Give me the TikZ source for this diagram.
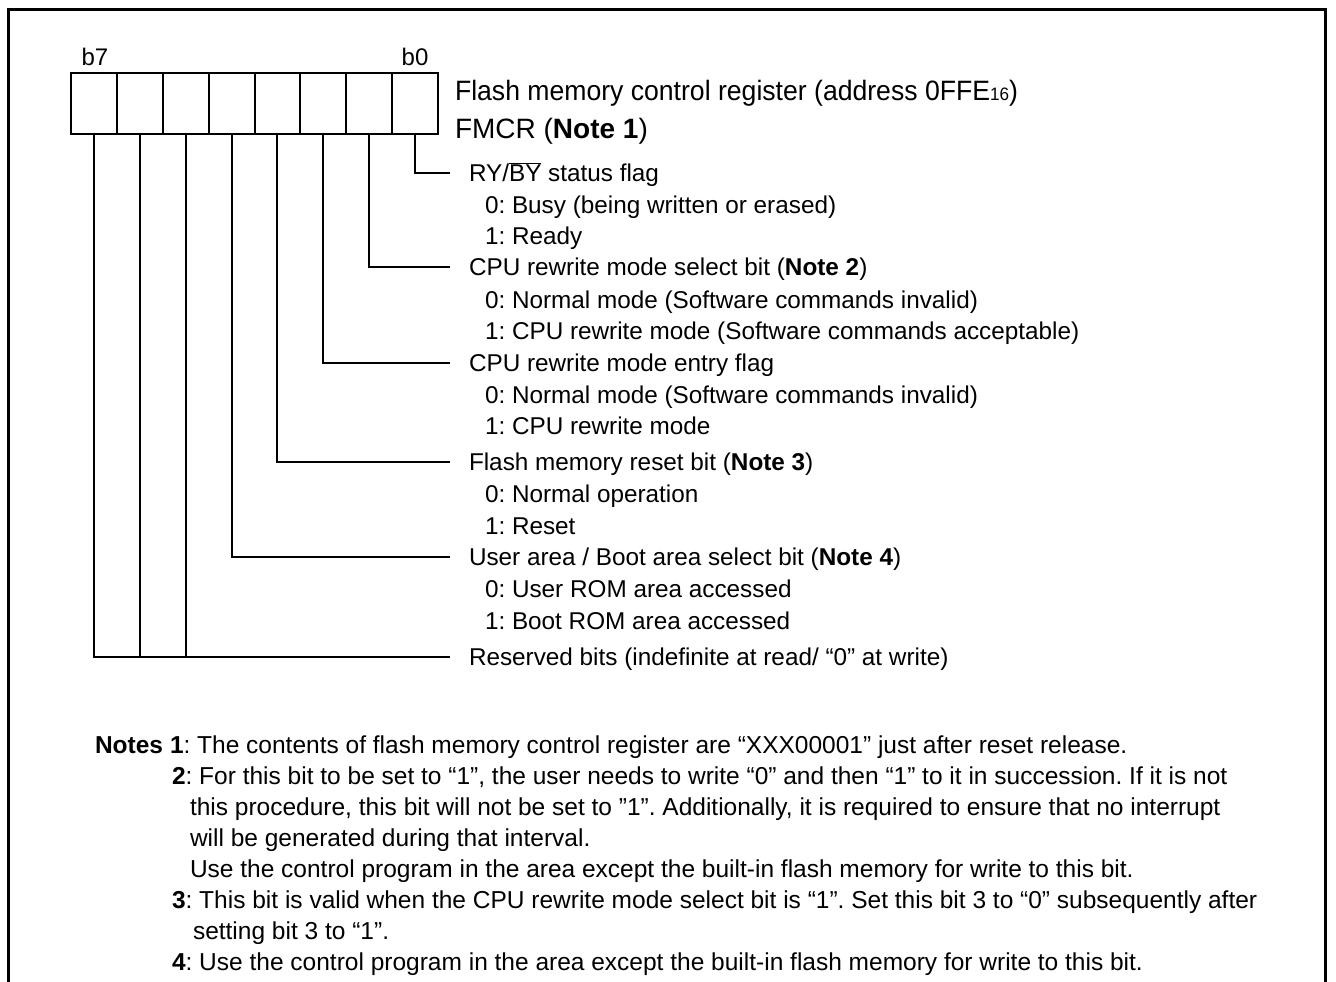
\documentclass[tikz,border=0pt]{standalone}
\usepackage{fontspec}
\usepackage{graphicx}
\setmainfont{Liberation Sans}
\frenchspacing
\begin{document}
\begin{tikzpicture}[x=1pt,y=-1pt,
  cell/.style={draw,line width=2pt,minimum width=45.875pt,minimum height=61pt,inner sep=0pt,outer sep=0pt},
  txt/.style={anchor=base west,inner sep=0pt,outer sep=0pt,font=\fontsize{24.3}{28}\selectfont},
  ntxt/.style={anchor=base west,inner sep=0pt,outer sep=0pt,font=\fontsize{24.5}{28}\selectfont},
  ttl/.style={anchor=base west,inner sep=0pt,outer sep=0pt,font=\fontsize{28}{32}\selectfont},
  bitlbl/.style={anchor=base,inner sep=0pt,font=\fontsize{24}{28}\selectfont},
  conn/.style={line width=2pt},
  frame/.style={line width=3pt}]
\useasboundingbox (0,0) rectangle (1336,982);
% frame
\coordinate (f1) at (8,982);
\coordinate (f2) at (8,10);
\coordinate (f3) at (1325,10);
\coordinate (f4) at (1325,982);
\draw[frame] (f1) -- (f2) -- (f3) -- (f4);
% register cells (c7 leftmost ... c0 rightmost)
\foreach \i in {0,...,7}{
  \pgfmathsetmacro{\cx}{71+45.875*(7-\i+0.5)}
  \node[cell] (c\i) at (\cx,103.5) {};
}
\node[bitlbl] (b7) at (95,66) {b7};
\node[bitlbl] (b0) at (415,66) {b0};
\node[ttl] (title) at (455,100) {\scalebox{0.95}[1]{Flash memory control register (address 0FFE{\fontsize{18}{18}\selectfont 16})}};
\node[ttl] (fmcr) at (455,138) {FMCR (\textbf{Note 1})};
% bit descriptions
\def\hx{469}
\def\sx{485}
\node[txt] (t0) at (\hx,181.6) {RY/$\overline{\mbox{BY}}$ status flag};
\node[txt] (t0a) at (\sx,213.1) {0: Busy (being written or erased)};
\node[txt] (t0b) at (\sx,244.6) {1: Ready};
\node[txt] (t1) at (\hx,275.6) {CPU rewrite mode select bit (\textbf{Note 2})};
\node[txt] (t1a) at (\sx,308.1) {0: Normal mode (Software commands invalid)};
\node[txt] (t1b) at (\sx,339.6) {1: CPU rewrite mode (Software commands acceptable)};
\node[txt] (t2) at (\hx,371.6) {CPU rewrite mode entry flag};
\node[txt] (t2a) at (\sx,403.6) {0: Normal mode (Software commands invalid)};
\node[txt] (t2b) at (\sx,434.6) {1: CPU rewrite mode};
\node[txt] (t3) at (\hx,470.6) {Flash memory reset bit (\textbf{Note 3})};
\node[txt] (t3a) at (\sx,502.6) {0: Normal operation};
\node[txt] (t3b) at (\sx,534.1) {1: Reset};
\node[txt] (t4) at (\hx,565.6) {User area / Boot area select bit (\textbf{Note 4})};
\node[txt] (t4a) at (\sx,597.6) {0: User ROM area accessed};
\node[txt] (t4b) at (\sx,629.6) {1: Boot ROM area accessed};
\node[txt] (t5) at (\hx,665.1) {Reserved bits (indefinite at read/ “0” at write)};
% connector ends
\coordinate (e0) at (450,173);
\coordinate (e1) at (450,267);
\coordinate (e2) at (450,363);
\coordinate (e3) at (450,462);
\coordinate (e4) at (450,557);
\coordinate (e5) at (450,656.5);
\draw[conn] (c0.south) |- (e0);
\draw[conn] (c1.south) |- (e1);
\draw[conn] (c2.south) |- (e2);
\draw[conn] (c3.south) |- (e3);
\draw[conn] (c4.south) |- (e4);
\draw[conn] (c7.south) |- (e5);
\draw[conn] (c6.south) -- (c6.south |- e5);
\draw[conn] (c5.south) -- (c5.south |- e5);
% notes
\node[ntxt] (nh) at (95,753.6) {\textbf{Notes}};
\node[ntxt] (n1) at (170,753.6) {\textbf{1}: The contents of flash memory control register are “XXX00001” just after reset release.};
\node[ntxt] (n2) at (172,784.6) {\textbf{2}: For this bit to be set to “1”, the user needs to write “0” and then “1” to it in succession. If it is not};
\node[ntxt] (n2b) at (190,815.6) {this procedure, this bit will not be set to ”1”. Additionally, it is required to ensure that no interrupt};
\node[ntxt] (n2c) at (190,846.6) {will be generated during that interval.};
\node[ntxt] (n2d) at (190,877.6) {Use the control program in the area except the built-in flash memory for write to this bit.};
\node[ntxt] (n3) at (172,908.6) {\textbf{3}: This bit is valid when the CPU rewrite mode select bit is “1”. Set this bit 3 to “0” subsequently after};
\node[ntxt] (n3b) at (193,939.6) {setting bit 3 to “1”.};
\node[ntxt] (n4) at (172,970.6) {\textbf{4}: Use the control program in the area except the built-in flash memory for write to this bit.};
\end{tikzpicture}
\end{document}
